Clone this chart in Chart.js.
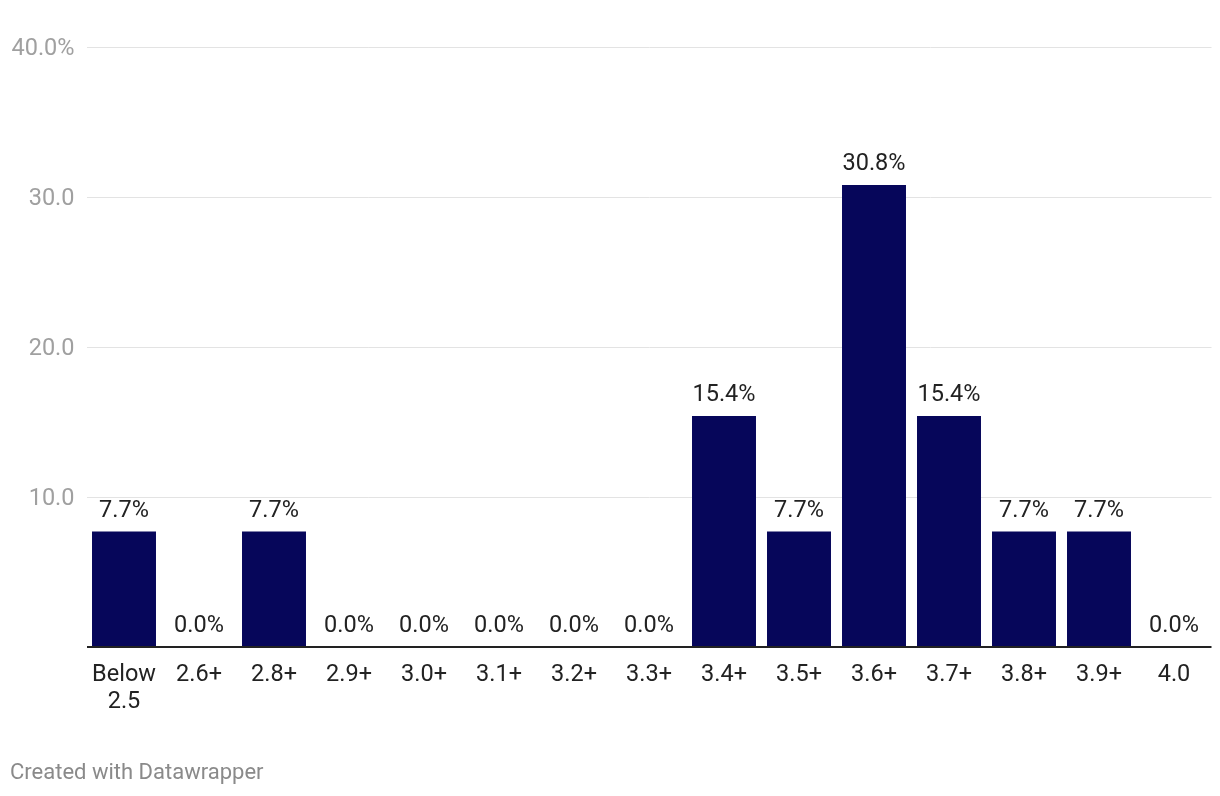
<!DOCTYPE html>
<html>
<head>
<meta charset="utf-8">
<script src="https://cdn.jsdelivr.net/npm/chart.js@4"></script>
<style>
  body { margin: 0; background: #fff; font-family: Roboto, sans-serif; }
  #wrap { position: relative; width: 1220px; height: 796px; }
  #footer { position: absolute; left: 10px; top: 759px; font-size: 22px; color: #8a8a8a; }
</style>
</head>
<body>
<div id="wrap">
  <canvas id="gpaChart" width="1220" height="796"></canvas>
  <div id="footer">Created with Datawrapper</div>
</div>
<script>
var categories = [['Below', '2.5'], '2.6+', '2.8+', '2.9+', '3.0+', '3.1+', '3.2+', '3.3+', '3.4+', '3.5+', '3.6+', '3.7+', '3.8+', '3.9+', '4.0'];
var shares = [7.7, 0, 7.7, 0, 0, 0, 0, 0, 15.4, 7.7, 30.8, 15.4, 7.7, 7.7, 0];
var yTicks = [0, 10, 20, 30, 40];

Chart.defaults.font.family = 'Roboto, sans-serif';
Chart.defaults.font.size = 23.5;

// value labels above the bars
var valueLabels = {
    id: 'valueLabels',
    afterDatasetsDraw: function (chart) {
        var ctx = chart.ctx;
        var meta = chart.getDatasetMeta(0);
        ctx.save();
        ctx.font = '23.5px Roboto, sans-serif';
        ctx.fillStyle = '#222';
        ctx.textAlign = 'center';
        ctx.textBaseline = 'alphabetic';
        meta.data.forEach(function (bar, i) {
            ctx.fillText(shares[i].toFixed(1) + '%', bar.x, bar.y - 15);
        });
        ctx.restore();
    }
};

var ctx = document.getElementById('gpaChart').getContext('2d');
var gpaChart = new Chart(ctx, {
    type: 'bar',
    data: {
        labels: categories,
        datasets: [{
            data: shares,
            backgroundColor: '#06065a',
            barPercentage: 0.853,
            categoryPercentage: 1
        }]
    },
    plugins: [valueLabels],
    options: {
        responsive: false,
        animation: false,
        layout: { padding: { left: 9.5, right: 8.5, top: 47, bottom: 79 } },
        plugins: {
            legend: { display: false },
            tooltip: { enabled: false }
        },
        scales: {
            x: {
                grid: { display: false },
                border: { display: false },
                ticks: {
                    color: '#222',
                    maxRotation: 0,
                    autoSkip: false,
                    padding: 6,
                    font: { size: 23.5, lineHeight: 1.18 }
                },
                afterFit: function (scale) { scale.height = 70; }
            },
            y: {
                min: 0,
                max: 40,
                afterBuildTicks: function (scale) {
                    scale.ticks = yTicks.map(function (v) { return { value: v }; });
                },
                border: { display: false },
                grid: {
                    drawTicks: false,
                    color: function (c) { return c.tick.value === 0 ? '#222' : '#e3e3e3'; },
                    lineWidth: function (c) { return c.tick.value === 0 ? 2 : 1; }
                },
                ticks: {
                    color: '#a0a0a0',
                    padding: 12,
                    labelOffset: 2,
                    callback: function (v) {
                        if (v === 0) return '';
                        return v.toFixed(1) + (v === 40 ? '%' : '');
                    }
                },
                afterFit: function (scale) { scale.width = 77; }
            }
        }
    }
});
</script>
</body>
</html>
